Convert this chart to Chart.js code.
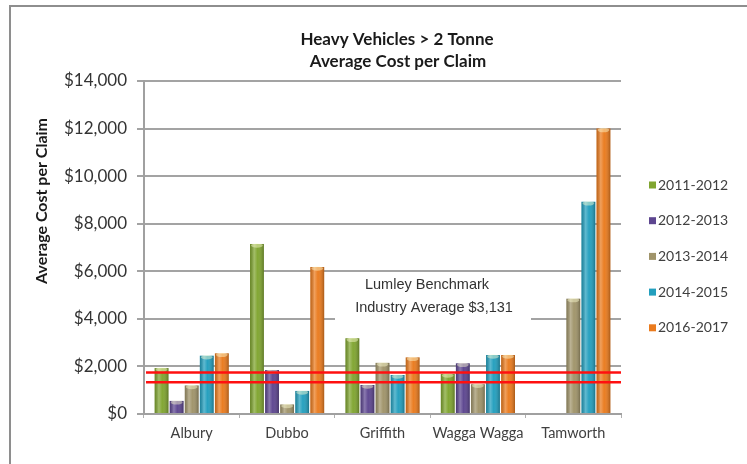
<!DOCTYPE html>
<html>
<head>
<meta charset="utf-8">
<script src="https://cdn.jsdelivr.net/npm/chart.js@4"></script>
<style>
  html, body { margin: 0; padding: 0; background: #fff; }
  #wrap { width: 747px; height: 464px; }
</style>
</head>
<body>
<div id="wrap"><canvas id="costChart" width="747" height="464"></canvas></div>
<script>
// Data
const categories = ['Albury', 'Dubbo', 'Griffith', 'Wagga Wagga', 'Tamworth'];
const seriesLabels = ['2011-2012', '2012-2013', '2013-2014', '2014-2015', '2016-2017'];
const cost2011 = [1930, 7150, 3180, 1680, null];
const cost2012 = [550, 1850, 1220, 2130, null];
const cost2013 = [1200, 400, 2150, 1250, 4850];
const cost2014 = [2450, 970, 1640, 2480, 8920];
const cost2016 = [2550, 6180, 2380, 2480, 12000];
const benchmarkLines = [1740, 1330];
const titleLines = ['Heavy Vehicles > 2 Tonne', 'Average Cost per Claim'];
const noteLines = ['Lumley Benchmark', 'Industry Average $3,131'];
const yMin = 0, yMax = 14000, yStep = 2000;

const colors = ['#80a530', '#5d4690', '#a0946a', '#239fbe', '#ea7b1e'];
const seriesData = [cost2011, cost2012, cost2013, cost2014, cost2016];

const calibri = 'Lato, "Open Sans", sans-serif';
const arial = '"Liberation Sans", Arial, sans-serif';

// Draws the frame, titles, note box, legend, cylinder shading and red lines
const decor = {
  id: 'decor',
  beforeDraw(chart){
    const c = chart.ctx;
    c.save();
    c.fillStyle = '#fff';
    c.fillRect(0, 0, chart.width, chart.height);
    c.strokeStyle = '#8e8e8e';
    c.lineWidth = 2;
    c.strokeRect(10, 6, 780, 500);
    c.restore();
  },
  beforeDatasetsDraw(chart){
    const c = chart.ctx;
    c.save();
    c.fillStyle = '#fff';
    c.fillRect(335, 274, 196, 48);
    c.fillStyle = '#333';
    c.font = '14.5px ' + arial;
    c.textAlign = 'center';
    c.textBaseline = 'middle';
    c.fillText(noteLines[0], 427, 285);
    c.fillText(noteLines[1], 434, 308);
    c.restore();
  },
  afterDatasetsDraw(chart){
    const c = chart.ctx;
    c.save();
    chart.data.datasets.forEach((ds, i) => {
      chart.getDatasetMeta(i).data.forEach(bar => {
        if (bar.skip || bar.base - bar.y <= 0) return;
        const w = bar.width, x0 = bar.x - w / 2;
        const g = c.createLinearGradient(x0, 0, x0 + w, 0);
        g.addColorStop(0, 'rgba(0,0,0,0.18)');
        g.addColorStop(0.3, 'rgba(255,255,255,0.28)');
        g.addColorStop(0.55, 'rgba(255,255,255,0.02)');
        g.addColorStop(1, 'rgba(0,0,0,0.28)');
        c.fillStyle = g;
        c.fillRect(x0, bar.y, w, bar.base - bar.y);
        c.fillStyle = 'rgba(255,255,210,0.45)';
        c.beginPath();
        c.ellipse(bar.x, bar.y + 1.5, w / 2 - 1, 2.2, 0, 0, Math.PI * 2);
        c.fill();
      });
    });
    const y = chart.scales.y, a = chart.chartArea;
    c.strokeStyle = '#ff1010';
    c.lineWidth = 2.5;
    benchmarkLines.forEach(v => {
      const py = y.getPixelForValue(v);
      c.beginPath();
      c.moveTo(a.left + 2, py);
      c.lineTo(a.right, py);
      c.stroke();
    });
    c.restore();
  },
  afterDraw(chart){
    const c = chart.ctx;
    c.save();
    c.fillStyle = '#1a1a1a';
    c.textAlign = 'center';
    c.textBaseline = 'middle';
    c.font = 'bold 17px ' + calibri;
    c.fillText(titleLines[0], 397, 40);
    c.fillText(titleLines[1], 398, 62);
    // y axis title
    c.save();
    c.translate(42, 201);
    c.rotate(-Math.PI / 2);
    c.font = 'bold 16px ' + calibri;
    c.fillText('Average Cost per Claim', 0, 0);
    c.restore();
    // legend
    c.textAlign = 'left';
    c.font = '14px ' + calibri;
    chart.data.datasets.forEach((ds, i) => {
      const ly = 185 + i * 35.7;
      c.fillStyle = ds.backgroundColor;
      c.fillRect(649, ly - 3.5, 7, 7);
      c.fillStyle = '#404040';
      c.fillText(ds.label, 658, ly);
    });
    c.restore();
  }
};

new Chart(document.getElementById('costChart'), {
  type: 'bar',
  data: {
    labels: categories,
    datasets: seriesLabels.map((label, i) => ({
      label: label,
      data: seriesData[i],
      backgroundColor: colors[i],
      borderWidth: 0,
      barPercentage: 0.92,
      categoryPercentage: 0.79
    }))
  },
  options: {
    responsive: false,
    animation: false,
    layout: { padding: { left: 0, top: 81, right: 126, bottom: 20 } },
    plugins: {
      legend: { display: false },
      title: { display: false },
      tooltip: { enabled: false }
    },
    scales: {
      x: {
        afterFit: s => { s.height = 30; },
        grid: { display: true, drawOnChartArea: false, tickLength: 4, color: '#b0b0b0', offset: true },
        border: { color: '#a0a0a0', width: 2 },
        ticks: {
          color: '#404040',
          font: { family: calibri, size: 14.5 },
          padding: 7,
          maxRotation: 0,
          minRotation: 0,
          autoSkip: false
        }
      },
      y: {
        min: yMin,
        max: yMax,
        afterFit: s => { s.width = 144; },
        grid: { color: '#a3a3a3', lineWidth: 2, tickLength: 7 },
        border: { color: '#a0a0a0', width: 2 },
        ticks: {
          stepSize: yStep,
          padding: 10,
          color: '#333',
          font: { family: calibri, size: 17 },
          callback: v => '$' + v.toLocaleString('en-US')
        }
      }
    }
  },
  plugins: [decor]
});
</script>
</body>
</html>
